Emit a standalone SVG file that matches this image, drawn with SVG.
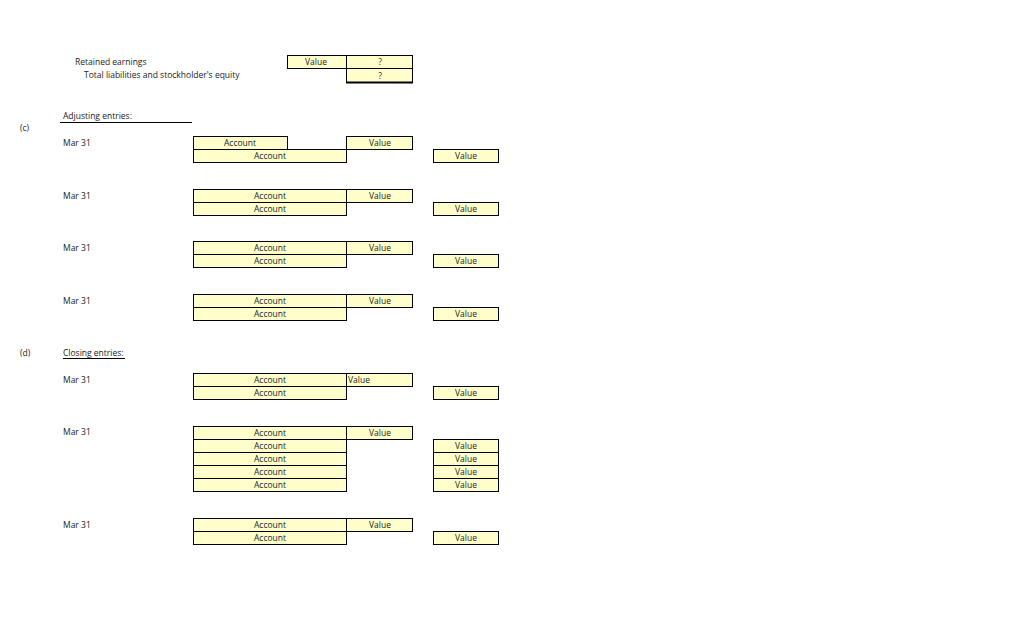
<svg xmlns="http://www.w3.org/2000/svg" width="1024" height="622" viewBox="0 0 1024 622">
<style>
text{font-family:"Open Sans","Liberation Sans",sans-serif;font-size:8.5px;fill:#222}
.c{fill:#FFFFCC;stroke:#000;stroke-width:1}
.m{text-anchor:middle}
</style>
<rect width="1024" height="622" fill="#fff"/>
<g id="top">
<text x="75" y="65">Retained earnings</text>
<text x="84" y="78">Total liabilities and stockholder's equity</text>
<rect class="c" x="287.5" y="55.5" width="59" height="13"/>
<text class="m" x="316" y="65">Value</text>
<rect class="c" x="346.5" y="55.5" width="66" height="13"/>
<text class="m" x="380" y="65">?</text>
<rect class="c" x="346.5" y="68.5" width="66" height="14"/>
<line x1="346" y1="82.5" x2="413" y2="82.5" stroke="#000" stroke-width="2"/>
<text class="m" x="380" y="79">?</text>
</g>
<g id="c">
<text x="20" y="131">(c)</text>
<text x="63" y="119">Adjusting entries:</text>
<line x1="60" y1="122.5" x2="192" y2="122.5" stroke="#000"/>
<text x="63" y="146">Mar 31</text>
<rect class="c" x="193.5" y="136.5" width="94" height="13"/>
<text class="m" x="240" y="146">Account</text>
<rect class="c" x="193.5" y="149.5" width="153" height="13"/>
<text class="m" x="270" y="159">Account</text>
<rect class="c" x="346.5" y="136.5" width="66" height="13"/>
<text class="m" x="380" y="146">Value</text>
<rect class="c" x="433.5" y="149.5" width="65" height="13"/>
<text class="m" x="466" y="159">Value</text>
<g id="e2">
<text x="63" y="199">Mar 31</text>
<rect class="c" x="193.5" y="189.5" width="153" height="13"/><text class="m" x="270" y="199">Account</text>
<rect class="c" x="193.5" y="202.5" width="153" height="13"/><text class="m" x="270" y="212">Account</text>
<rect class="c" x="346.5" y="189.5" width="66" height="13"/><text class="m" x="380" y="199">Value</text>
<rect class="c" x="433.5" y="202.5" width="65" height="13"/><text class="m" x="466" y="212">Value</text>
</g>
<g id="e3">
<text x="63" y="251">Mar 31</text>
<rect class="c" x="193.5" y="241.5" width="153" height="13"/><text class="m" x="270" y="251">Account</text>
<rect class="c" x="193.5" y="254.5" width="153" height="13"/><text class="m" x="270" y="264">Account</text>
<rect class="c" x="346.5" y="241.5" width="66" height="13"/><text class="m" x="380" y="251">Value</text>
<rect class="c" x="433.5" y="254.5" width="65" height="13"/><text class="m" x="466" y="264">Value</text>
</g>
<g id="e4">
<text x="63" y="304">Mar 31</text>
<rect class="c" x="193.5" y="294.5" width="153" height="13"/><text class="m" x="270" y="304">Account</text>
<rect class="c" x="193.5" y="307.5" width="153" height="13"/><text class="m" x="270" y="317">Account</text>
<rect class="c" x="346.5" y="294.5" width="66" height="13"/><text class="m" x="380" y="304">Value</text>
<rect class="c" x="433.5" y="307.5" width="65" height="13"/><text class="m" x="466" y="317">Value</text>
</g>
</g>
<g id="d">
<text x="20" y="356">(d)</text>
<text x="63" y="356">Closing entries:</text>
<line x1="63" y1="358.5" x2="125" y2="358.5" stroke="#000"/>
<g id="d1">
<text x="63" y="383">Mar 31</text>
<rect class="c" x="193.5" y="373.5" width="153" height="13"/><text class="m" x="270" y="383">Account</text>
<rect class="c" x="193.5" y="386.5" width="153" height="13"/><text class="m" x="270" y="396">Account</text>
<rect class="c" x="346.5" y="373.5" width="66" height="13"/><text x="348" y="383">Value</text>
<rect class="c" x="433.5" y="386.5" width="65" height="13"/><text class="m" x="466" y="396">Value</text>
</g>
<g id="d2">
<text x="63" y="435">Mar 31</text>
<rect class="c" x="193.5" y="426.5" width="153" height="13"/><text class="m" x="270" y="436">Account</text>
<rect class="c" x="193.5" y="439.5" width="153" height="13"/><text class="m" x="270" y="449">Account</text>
<rect class="c" x="193.5" y="452.5" width="153" height="13"/><text class="m" x="270" y="462">Account</text>
<rect class="c" x="193.5" y="465.5" width="153" height="13"/><text class="m" x="270" y="475">Account</text>
<rect class="c" x="193.5" y="478.5" width="153" height="13"/><text class="m" x="270" y="488">Account</text>
<rect class="c" x="346.5" y="426.5" width="66" height="13"/><text class="m" x="380" y="436">Value</text>
<rect class="c" x="433.5" y="439.5" width="65" height="13"/><text class="m" x="466" y="449">Value</text>
<rect class="c" x="433.5" y="452.5" width="65" height="13"/><text class="m" x="466" y="462">Value</text>
<rect class="c" x="433.5" y="465.5" width="65" height="13"/><text class="m" x="466" y="475">Value</text>
<rect class="c" x="433.5" y="478.5" width="65" height="13"/><text class="m" x="466" y="488">Value</text>
</g>
<g id="d3">
<text x="63" y="528">Mar 31</text>
<rect class="c" x="193.5" y="518.5" width="153" height="13"/><text class="m" x="270" y="528">Account</text>
<rect class="c" x="193.5" y="531.5" width="153" height="13"/><text class="m" x="270" y="541">Account</text>
<rect class="c" x="346.5" y="518.5" width="66" height="13"/><text class="m" x="380" y="528">Value</text>
<rect class="c" x="433.5" y="531.5" width="65" height="13"/><text class="m" x="466" y="541">Value</text>
</g>
</g>
<g id="connectors"/>
</svg>
